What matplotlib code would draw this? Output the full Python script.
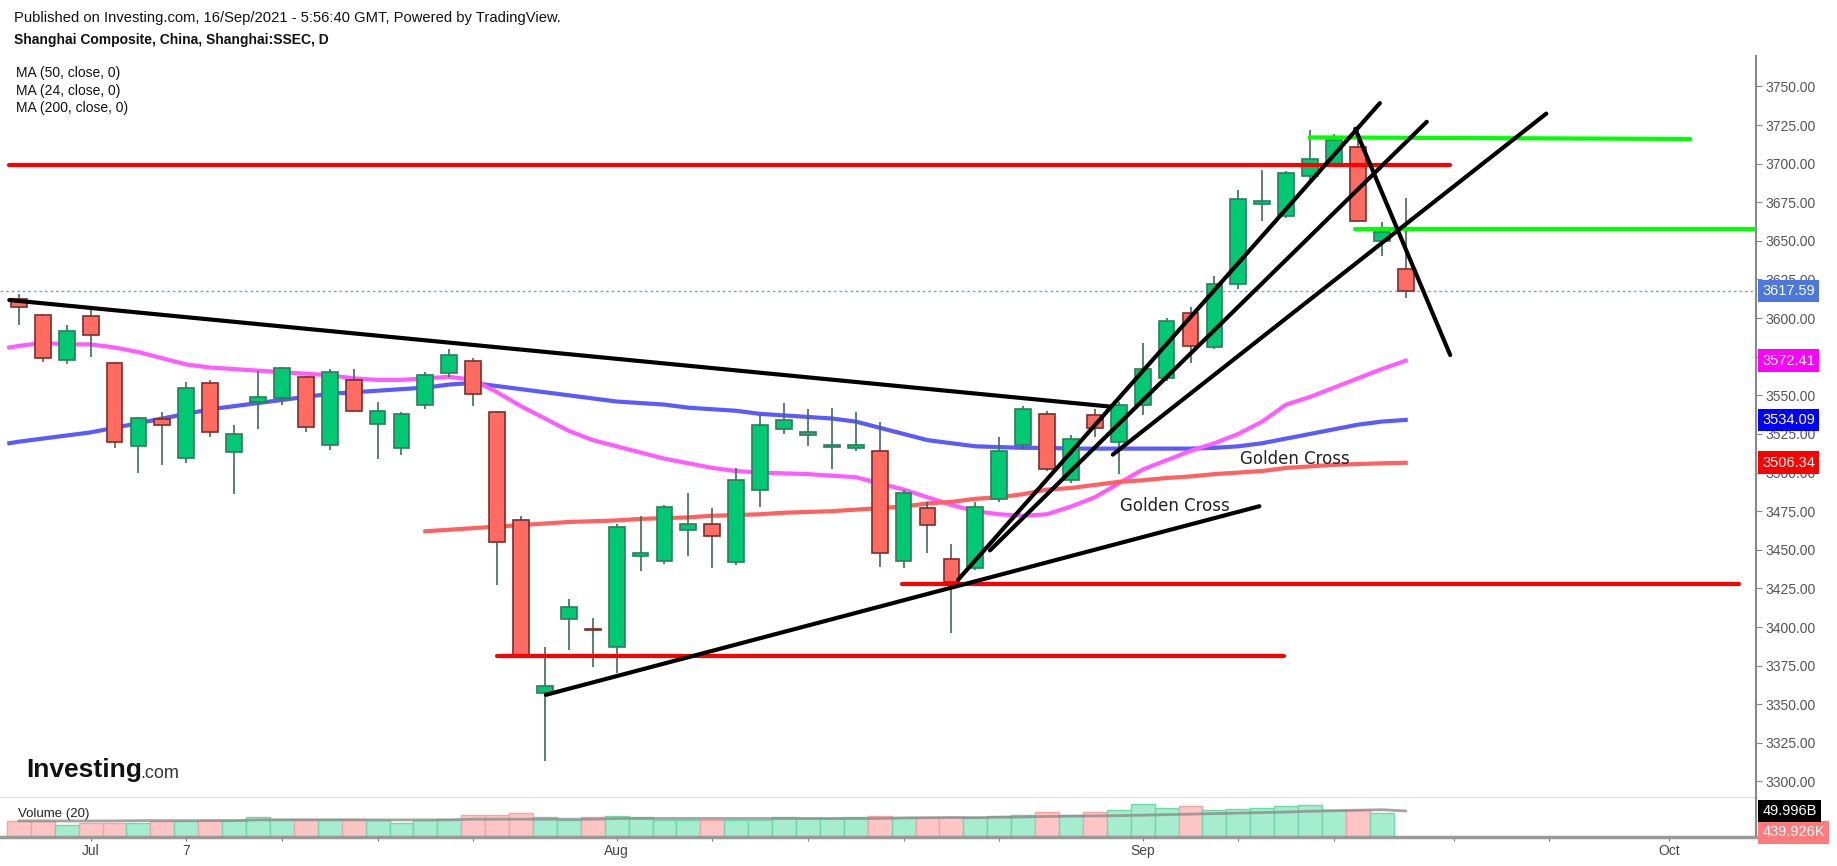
import matplotlib
matplotlib.use('Agg')
import matplotlib.pyplot as plt
from matplotlib.transforms import blended_transform_factory

# daily candles, 28 Jun 2021 .. 16 Sep 2021 (trading day index 0..58)
opens = [3612.6, 3602.2, 3573.1, 3601.4, 3570.8, 3517.5, 3534.5, 3509.4, 3557.8, 3513.0,
         3545.5, 3548.0, 3561.9, 3517.7, 3560.2, 3531.3, 3516.0, 3544.0, 3564.5, 3572.0,
         3539.0, 3469.0, 3357.0, 3405.0, 3399.0, 3387.0, 3446.0, 3443.0, 3463.0, 3467.0,
         3442.0, 3489.0, 3528.0, 3524.5, 3516.5, 3516.0, 3514.0, 3443.0, 3477.0, 3444.0,
         3438.0, 3483.0, 3518.0, 3538.0, 3495.0, 3537.0, 3520.0, 3544.0, 3561.0, 3603.0,
         3581.0, 3622.0, 3674.0, 3666.0, 3692.0, 3700.0, 3711.0, 3650.0, 3632.0]
highs = [3615.5, 3602.7, 3595.4, 3608.1, 3571.5, 3536.0, 3539.4, 3558.9, 3559.8, 3530.6,
         3566.0, 3568.6, 3562.5, 3566.9, 3566.9, 3545.5, 3539.0, 3565.0, 3580.0, 3574.0,
         3540.0, 3472.0, 3387.0, 3418.0, 3406.0, 3467.0, 3472.0, 3479.0, 3487.0, 3477.0,
         3503.0, 3537.0, 3545.0, 3541.0, 3542.0, 3539.0, 3533.0, 3489.0, 3481.0, 3454.0,
         3481.0, 3523.0, 3543.0, 3540.0, 3524.0, 3541.0, 3546.0, 3584.0, 3600.0, 3607.0,
         3627.0, 3683.0, 3696.0, 3695.0, 3722.0, 3719.0, 3725.0, 3662.0, 3678.0]
lows = [3595.6, 3571.8, 3570.3, 3575.0, 3516.0, 3499.5, 3505.0, 3506.0, 3522.9, 3486.0,
        3528.2, 3543.8, 3526.5, 3514.5, 3539.0, 3508.6, 3511.6, 3541.0, 3562.0, 3543.0,
        3427.0, 3380.0, 3313.0, 3385.0, 3374.0, 3370.0, 3436.0, 3441.0, 3446.0, 3438.0,
        3440.0, 3478.0, 3525.0, 3517.0, 3502.0, 3514.0, 3439.0, 3438.0, 3448.0, 3396.0,
        3437.0, 3481.0, 3515.0, 3501.0, 3493.0, 3523.0, 3499.0, 3537.0, 3559.0, 3571.0,
        3580.0, 3619.0, 3663.0, 3665.0, 3688.0, 3698.0, 3662.0, 3640.0, 3613.0]
closes = [3607.4, 3574.0, 3591.9, 3589.3, 3520.0, 3535.2, 3530.8, 3554.6, 3526.1, 3524.8,
          3549.0, 3567.5, 3529.3, 3564.9, 3539.9, 3539.9, 3537.7, 3563.2, 3576.0, 3551.0,
          3455.0, 3381.0, 3362.0, 3413.0, 3398.0, 3465.0, 3448.0, 3478.0, 3467.0, 3459.0,
          3495.0, 3531.0, 3534.0, 3526.0, 3518.0, 3518.0, 3448.0, 3487.0, 3466.0, 3429.0,
          3478.0, 3514.0, 3541.0, 3502.0, 3522.0, 3529.0, 3544.0, 3567.0, 3598.0, 3582.0,
          3622.0, 3677.0, 3676.0, 3694.0, 3703.0, 3715.0, 3663.0, 3656.0, 3617.59]

# volume in billions
volumes = [30.8, 30.8, 24.0, 27.4, 27.4, 27.4, 30.8, 30.8, 32.2, 32.2,
           37.7, 34.9, 34.9, 34.9, 34.9, 32.2, 26.7, 32.2, 34.9, 43.2,
           43.2, 45.9, 37.7, 32.9, 37.7, 40.4, 38.4, 32.9, 32.9, 32.9,
           32.9, 32.9, 37.7, 35.6, 35.6, 37.7, 40.4, 39.0, 37.7, 37.7,
           37.7, 40.4, 43.2, 48.6, 43.2, 48.6, 51.4, 63.7, 55.5, 58.9,
           51.4, 53.4, 55.5, 58.9, 61.0, 52.7, 52.7, 45.2, 0.6]
vol_ma = [31.0, 31.0, 30.8, 30.8, 31.0, 31.5, 31.5, 31.5, 31.5, 31.5,
          32.9, 32.9, 32.9, 32.9, 32.9, 32.9, 32.9, 32.9, 32.9, 34.2,
          34.2, 34.2, 34.2, 34.2, 34.2, 35.6, 35.6, 35.6, 35.6, 35.6,
          35.6, 35.6, 35.6, 35.6, 35.6, 35.6, 35.6, 36.5, 37.0, 37.5,
          37.0, 38.0, 38.5, 39.5, 40.0, 40.5, 41.0, 42.0, 43.0, 44.0,
          45.0, 46.0, 47.0, 48.0, 49.5, 50.5, 51.5, 52.5, 50.0]

ma50 = [3520, 3522, 3524, 3526, 3529, 3532, 3535, 3538, 3541, 3543,
        3545, 3547, 3549, 3551, 3552, 3553, 3554, 3555, 3557, 3558,
        3556, 3554, 3552, 3550, 3548, 3546, 3545, 3544, 3542, 3541,
        3540, 3538, 3537, 3536, 3535, 3533, 3529, 3525, 3521, 3519,
        3517, 3516.5, 3516, 3516, 3515.5, 3515.5, 3515.5, 3515.5, 3515.5, 3515.5,
        3516, 3517, 3519, 3522, 3525, 3528, 3531, 3533, 3534.09]
ma24 = [3582, 3584, 3583, 3583, 3581, 3578, 3574, 3570, 3568, 3567,
        3566, 3565, 3564, 3563, 3561, 3560, 3560, 3561, 3562, 3560,
        3552, 3543, 3535, 3527, 3521, 3517, 3513, 3509, 3506, 3503,
        3501, 3500, 3499.5, 3499, 3498, 3497, 3493, 3489, 3484, 3479,
        3475, 3473, 3472, 3473, 3478, 3484, 3493, 3502, 3508, 3514,
        3519, 3525, 3533, 3544, 3549, 3555, 3561, 3567, 3572.41]
ma200_start = 17
ma200 = [3462, 3463, 3464, 3465, 3466, 3467, 3468, 3468.5, 3469, 3470,
         3470.5, 3471, 3472, 3472.5, 3473, 3474, 3474.5, 3475, 3476, 3477,
         3478, 3480, 3481, 3483, 3484, 3486, 3489, 3490, 3492, 3494,
         3495, 3496.5, 3497.5, 3499, 3500, 3501, 3503, 3504, 3505, 3505.5,
         3506, 3506.34]

tick_idx = [3, 7, 11, 15, 19, 25, 29, 33, 37, 41, 47, 51, 55, 60, 64, 69]
tick_lbl = ['Jul', '7', '', '', '', 'Aug', '', '', '', '', 'Sep', '', '', '', '', 'Oct']

# hand drawn lines: (x0, y0, x1, y1, colour)
drawings = [
    (-0.4, 3699, 59.86, 3699, '#ff0000'),
    (36.93, 3428, 71.92, 3428, '#ff0000'),
    (19.98, 3381, 52.9, 3381, '#ff0000'),
    (53.98, 3717, 69.9, 3716, '#00ff00'),
    (55.9, 3658, 74.0, 3658, '#00ff00'),
    (-0.4, 3611.7, 45.65, 3542.7, 'black'),
    (22.04, 3356.1, 51.88, 3478.2, 'black'),
    (39.28, 3430.6, 56.92, 3739.2, 'black'),
    (40.61, 3449.6, 58.88, 3727.1, 'black'),
    (45.75, 3511.6, 63.88, 3732.4, 'black'),
    (55.89, 3722.5, 59.86, 3576.1, 'black'),
]

W, H = 1837, 866
fig = plt.figure(figsize=(W / 100, H / 100), dpi=100)
fig.patch.set_facecolor('white')

ax = fig.add_axes([0, 1 - 798 / H, 1756 / W, (798 - 56) / H])
axv = fig.add_axes([0, 1 - 837 / H, 1756 / W, (837 - 798) / H], sharex=ax)

n = len(closes)
idx = list(range(n))
up = [c >= o for o, c in zip(opens, closes)]

# moving averages
ax.plot([-0.4] + idx, [ma50[0] - 1] + ma50, color='#5a5aff', lw=3, zorder=2)
ax.plot([-0.4] + idx, [ma24[0] - 1] + ma24, color='#ff5cff', lw=3, zorder=2)
ax.plot(list(range(ma200_start, n)), ma200, color='#ff6060', lw=3, zorder=2)

# candles
body_col = ['#00c873' if u else '#ff6b61' for u in up]
edge_col = ['#2e7d5a' if u else '#7a2e2a' for u in up]
ax.vlines(idx, lows, highs, color='#3d6b57', lw=1.2, zorder=3)
bottoms = [min(o, c) for o, c in zip(opens, closes)]
heights = [max(abs(c - o), 0.8) for o, c in zip(opens, closes)]
ax.bar(idx, heights, bottom=bottoms, width=0.66, color=body_col,
       edgecolor=edge_col, linewidth=1.2, zorder=4)

# last price dotted line
ax.axhline(closes[-1], color='#7c9ae6', lw=1, ls=(0, (2, 2)), zorder=1)

for x0, y0, x1, y1, col in drawings:
    ax.plot([x0, x1], [y0, y1], color=col, lw=3, solid_capstyle='round', zorder=6)

ax.text(53.35, 3508.6, 'Golden Cross', ha='center', va='center', fontsize=12, color='#222', zorder=7)
ax.text(48.35, 3478.3, 'Golden Cross', ha='center', va='center', fontsize=12, color='#222', zorder=7)

ax.set_xlim(-0.79, 72.65)
ax.set_ylim(3289.3, 3769.7)
ax.yaxis.tick_right()
ax.set_yticks([3300 + 25 * k for k in range(19)])
ax.set_yticklabels(['%.2f' % (3300 + 25 * k) for k in range(19)])
ax.tick_params(axis='y', direction='out', length=4, color='#888', labelcolor='#555',
               labelsize=10, pad=3)
for lab in ax.get_yticklabels():
    lab.set_family('Liberation Sans')
ax.tick_params(axis='x', bottom=False, labelbottom=False)
for s in ['top', 'left']:
    ax.spines[s].set_visible(False)
ax.spines['right'].set_color('#888')
ax.spines['right'].set_linewidth(1.5)
ax.spines['bottom'].set_color('#555')
ax.spines['bottom'].set_linewidth(1)

# price tags on the right axis
tr = blended_transform_factory(ax.transAxes, ax.transData)
tags = [(closes[-1], '#4a78e0'), (ma24[-1], '#ff00ff'), (ma50[-1], '#0000ff'), (ma200[-1], '#ff0000')]
for val, col in tags:
    ax.text(1.0035, val, '%.2f' % val, transform=tr, ha='left', va='center', fontsize=10.5,
            family='Liberation Sans', color='white', clip_on=False, zorder=10,
            bbox=dict(boxstyle='square,pad=0.3', fc=col, ec='none'))

# volume pane
vol_face = ['#a6edcf' if u else '#ffc5c5' for u in up]
vol_edge = ['#6fd8a8' if u else '#f5a3a3' for u in up]
axv.bar(idx, volumes, width=1.0, color=vol_face, edgecolor=vol_edge, linewidth=1, zorder=2)
axv.plot(idx, vol_ma, color='#8c8c8c', lw=2, alpha=0.8, zorder=3)
axv.set_ylim(0, 75)
axv.set_yticks([])
axv.spines['top'].set_visible(False)
axv.spines['left'].set_visible(False)
axv.spines['right'].set_color('#888')
axv.spines['right'].set_linewidth(1.5)
axv.spines['bottom'].set_color('#999')
axv.spines['bottom'].set_linewidth(2.5)
axv.set_xticks(tick_idx)
axv.set_xticklabels(tick_lbl)
axv.tick_params(axis='x', direction='out', length=3, color='#777', labelcolor='#444',
                labelsize=10, pad=2)
for lab in axv.get_xticklabels():
    lab.set_family('Liberation Sans')
axv.text(0.0103, 0.6, 'Volume (20)', transform=axv.transAxes, fontsize=9.5,
         family='Liberation Sans', va='center', color='#222')
trv = blended_transform_factory(axv.transAxes, axv.transData)
axv.text(1.0035, 50.0, '49.996B', transform=trv, ha='left', va='center', fontsize=10.5,
         family='Liberation Sans', color='white', clip_on=False, zorder=10,
         bbox=dict(boxstyle='square,pad=0.3', fc='black', ec='none'))
axv.text(1.0035, 9.0, '439.926K', transform=trv, ha='left', va='center', fontsize=10.5,
         family='Liberation Sans', color='white', clip_on=False, zorder=9,
         bbox=dict(boxstyle='square,pad=0.3', fc='#ff7b7b', ec='none'))

# header
fig.text(14 / W, 1 - 18 / H, 'Published on Investing.com, 16/Sep/2021 - 5:56:40 GMT, Powered by TradingView.',
         fontsize=10.6, family='Liberation Sans', va='center', color='#111')
fig.text(14 / W, 1 - 40 / H, 'Shanghai Composite, China, Shanghai:SSEC, D',
         fontsize=10, family='Liberation Sans', weight='bold', va='center', color='#111')
for k, t in enumerate(['MA (50, close, 0)', 'MA (24, close, 0)', 'MA (200, close, 0)']):
    fig.text(16 / W, 1 - (73 + 17.5 * k) / H, t, fontsize=10, family='Liberation Sans',
             va='center', color='#111')

# logo
fig.text(26 / W, 1 - 770 / H, 'Investing', fontsize=19, family='Liberation Sans',
         weight='bold', va='center', color='#111')
fig.text(140 / W, 1 - 774 / H, '.com', fontsize=13, family='Liberation Sans',
         va='center', color='#333')

fig.savefig('out.png', dpi=100)
